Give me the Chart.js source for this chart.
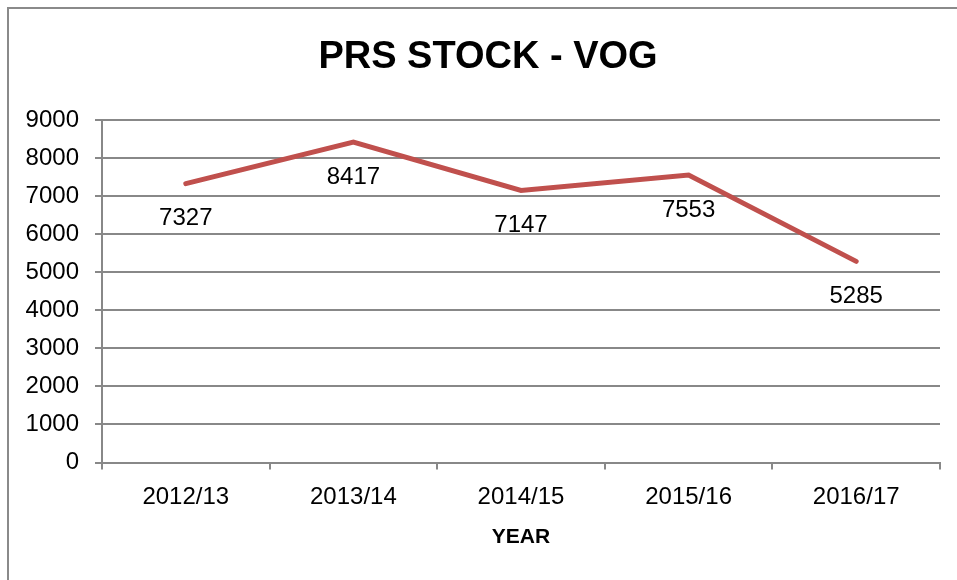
<!DOCTYPE html>
<html>
<head>
<meta charset="utf-8">
<script src="https://cdn.jsdelivr.net/npm/chart.js@4"></script>
<style>
  html, body { margin: 0; padding: 0; background: #fff; overflow: hidden; }
  #wrap { width: 957px; height: 580px; position: relative; }
</style>
</head>
<body>
<div id="wrap"><canvas id="prsChart"></canvas></div>
<script>
const years = ["2012/13", "2013/14", "2014/15", "2015/16", "2016/17"];
const stock = [7327, 8417, 7147, 7553, 5285];
const yTicks = [0, 1000, 2000, 3000, 4000, 5000, 6000, 7000, 8000, 9000];
const chartTitle = "PRS STOCK - VOG";

const FONT = "'Liberation Sans', Arial, sans-serif";
const GRID = "#888888";

// outer chart frame, Excel style (right and bottom edges fall off the page)
const framePlugin = {
  id: "frame",
  beforeDraw(chart) {
    const ctx = chart.ctx;
    ctx.save();
    ctx.strokeStyle = "#8a8a8a";
    ctx.lineWidth = 2;
    ctx.strokeRect(8, 8, chart.width + 20, chart.height + 20);
    ctx.restore();
  }
};

// title is centred on the original (wider) chart object, not on the page
const titlePlugin = {
  id: "bigTitle",
  afterDraw(chart) {
    const ctx = chart.ctx;
    ctx.save();
    ctx.font = "bold 38px " + FONT;
    ctx.fillStyle = "#000";
    ctx.textAlign = "center";
    ctx.textBaseline = "middle";
    ctx.fillText(chartTitle, 488, 58);
    ctx.restore();
  }
};

// value labels under each point
const valueLabels = {
  id: "valueLabels",
  afterDatasetsDraw(chart) {
    const ctx = chart.ctx;
    const meta = chart.getDatasetMeta(0);
    ctx.save();
    ctx.font = "24px " + FONT;
    ctx.fillStyle = "#000";
    ctx.textAlign = "center";
    ctx.textBaseline = "middle";
    meta.data.forEach((pt, i) => {
      ctx.fillText(String(stock[i]), pt.x, pt.y + 35);
    });
    ctx.restore();
  }
};

new Chart(document.getElementById("prsChart"), {
  type: "line",
  data: {
    labels: years,
    datasets: [{
      label: "PRS STOCK",
      data: stock,
      borderColor: "#C0504D",
      borderWidth: 5,
      pointRadius: 0,
      tension: 0,
      borderCapStyle: "round",
      borderJoinStyle: "miter"
    }]
  },
  options: {
    responsive: true,
    maintainAspectRatio: false,
    animation: false,
    layout: { padding: { left: 0, right: 17, top: 120, bottom: 28 } },
    plugins: {
      legend: { display: false },
      tooltip: { enabled: false },
      title: { display: false }
    },
    scales: {
      x: {
        offset: true,
        grid: {
          offset: true,
          drawOnChartArea: false,
          drawTicks: true,
          tickLength: 7,
          color: GRID,
          lineWidth: 2
        },
        border: { color: GRID, width: 2 },
        ticks: {
          color: "#000",
          padding: 16,
          font: { family: FONT, size: 24, lineHeight: 1 }
        },
        title: {
          display: true,
          text: "YEAR",
          color: "#000",
          font: { family: FONT, size: 21, weight: "bold", lineHeight: 1 },
          padding: { top: 1.5, bottom: 4 }
        }
      },
      y: {
        min: 0,
        max: 9000,
        afterBuildTicks(scale) {
          scale.ticks = yTicks.map(v => ({ value: v }));
        },
        afterFit(scale) { scale.width = 102; },
        grid: {
          color: GRID,
          lineWidth: 2,
          tickLength: 7
        },
        border: { color: GRID, width: 2 },
        ticks: {
          color: "#000",
          padding: 16,
          font: { family: FONT, size: 24 },
          callback: v => String(v)
        }
      }
    }
  },
  plugins: [framePlugin, titlePlugin, valueLabels]
});
</script>
</body>
</html>
